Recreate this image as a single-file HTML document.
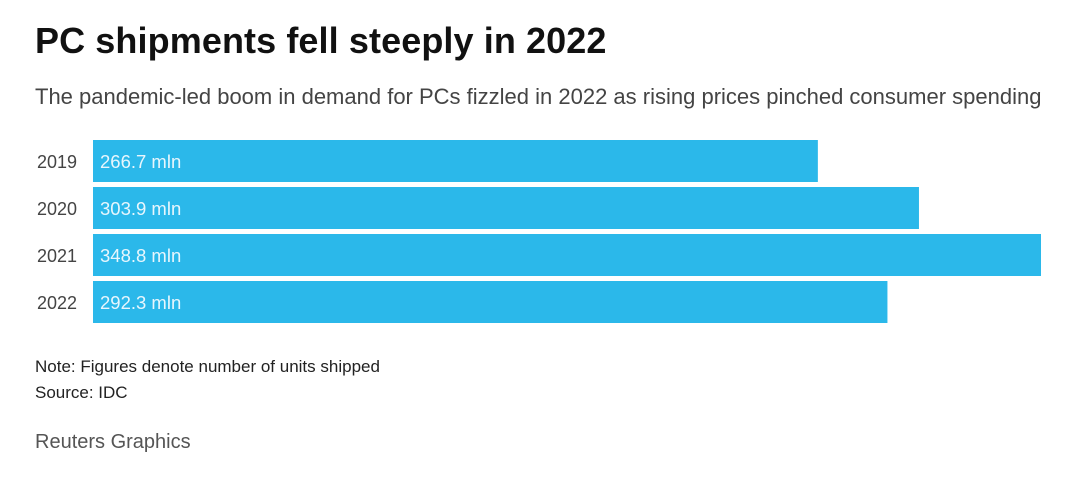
<!DOCTYPE html>
<html><head><meta charset="utf-8"><style>
body{margin:0;width:1072px;height:479px;background:#fff;font-family:"Liberation Sans",sans-serif;position:relative;overflow:hidden}
.t{position:absolute;white-space:nowrap}
</style></head><body>
<div class="t" style="left:35px;top:20px;font-size:36px;font-weight:bold;color:#111;letter-spacing:0.1px">PC shipments fell steeply in 2022</div>
<div class="t" style="left:35px;top:84px;font-size:22px;color:#444;letter-spacing:0px">The pandemic-led boom in demand for PCs fizzled in 2022 as rising prices pinched consumer spending</div>
<svg id="chart" width="1072" height="479" style="position:absolute;left:0;top:0"></svg>
<div class="t" style="left:35px;top:357px;font-size:17px;color:#222">Note: Figures denote number of units shipped</div>
<div class="t" style="left:35px;top:383px;font-size:17px;color:#222">Source: IDC</div>
<div class="t" style="left:35px;top:431px;font-size:20px;color:#555">Reuters Graphics</div>
<script>
const years=["2019","2020","2021","2022"];
const values=[266.7,303.9,348.8,292.3];
const svg=document.getElementById('chart');
const NS="http://www.w3.org/2000/svg";
const x0=93,xMax=1041,vMax=348.8,y0=140,step=47,h=42;
function xs(v){return x0+(xMax-x0)*v/vMax;}
years.forEach((yr,i)=>{
  const y=y0+i*step;
  const r=document.createElementNS(NS,'rect');
  r.setAttribute('x',x0);r.setAttribute('y',y);r.setAttribute('width',xs(values[i])-x0);r.setAttribute('height',h);r.setAttribute('fill','#2bb8ea');
  
  
  svg.appendChild(r);
  const l=document.createElementNS(NS,'text');
  l.setAttribute('x',77);l.setAttribute('y',y+h/2+7);l.setAttribute('text-anchor','end');l.setAttribute('font-size','18');l.setAttribute('fill','#444');l.setAttribute('font-family','Liberation Sans, sans-serif');
  l.textContent=yr;
  
  
  svg.appendChild(l);
  const v=document.createElementNS(NS,'text');
  v.setAttribute('x',100);v.setAttribute('y',y+h/2+7);v.setAttribute('font-size','18.5');v.setAttribute('fill','#e8f6fd');v.setAttribute('font-family','Liberation Sans, sans-serif');
  v.textContent=values[i].toFixed(1)+' mln';
  
  
  svg.appendChild(v);
});
</script>
</body></html>
